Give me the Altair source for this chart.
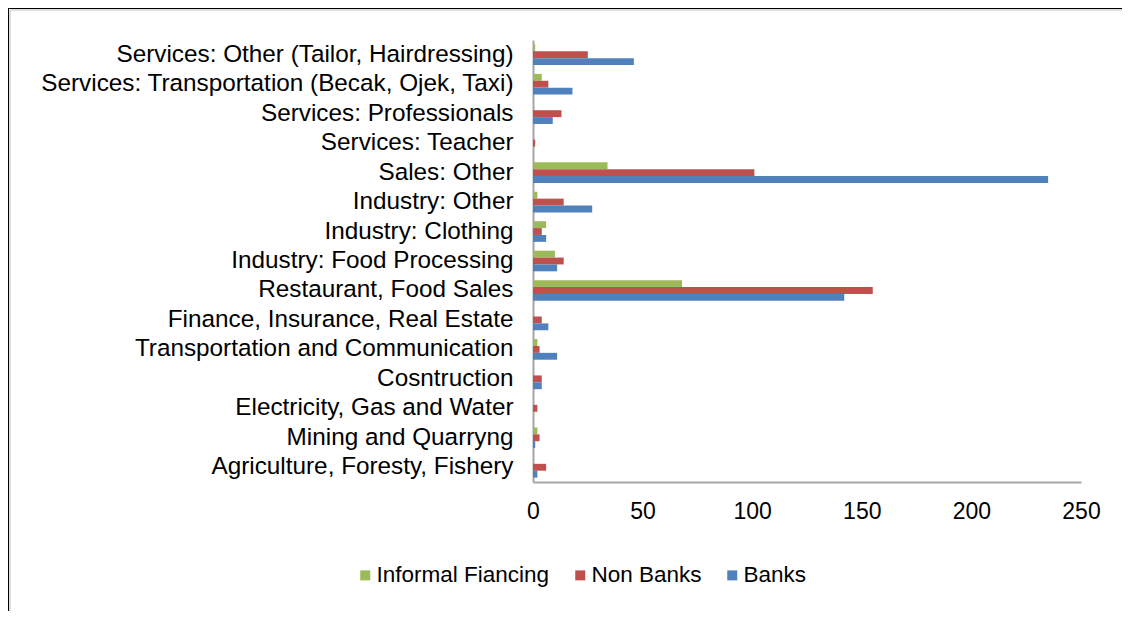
import altair as alt
import pandas as pd

categories = [
    "Services: Other (Tailor, Hairdressing)",
    "Services: Transportation (Becak, Ojek, Taxi)",
    "Services: Professionals",
    "Services: Teacher",
    "Sales: Other",
    "Industry: Other",
    "Industry: Clothing",
    "Industry: Food Processing",
    "Restaurant, Food Sales",
    "Finance, Insurance, Real Estate",
    "Transportation and Communication",
    "Cosntruction",
    "Electricity, Gas and Water",
    "Mining and Quarryng",
    "Agriculture, Foresty, Fishery",
]
banks = [46, 18, 9, 0, 235, 27, 6, 11, 142, 7, 11, 4, 0, 1, 2]
non_banks = [25, 7, 13, 1, 101, 14, 4, 14, 155, 4, 3, 4, 2, 3, 6]
informal = [1, 4, 0, 0, 34, 2, 6, 10, 68, 0, 2, 0, 0, 2, 0]

series = ["Informal Fiancing", "Non Banks", "Banks"]
colors = ["#9BBB59", "#C0504D", "#4F81BD"]
x_ticks = [0, 50, 100, 150, 200, 250]

rows = []
for i, c in enumerate(categories):
    rows.append({"category": c, "series": "Informal Fiancing", "value": informal[i]})
    rows.append({"category": c, "series": "Non Banks", "value": non_banks[i]})
    rows.append({"category": c, "series": "Banks", "value": banks[i]})
df = pd.DataFrame(rows)

FONT = "Liberation Sans"

bars = alt.Chart(df).mark_bar().encode(
    y=alt.Y(
        "category:N",
        sort=categories,
        scale=alt.Scale(paddingInner=0.3, paddingOuter=0.15),
        axis=alt.Axis(
            title=None,
            ticks=False,
            tickSize=0,
            labelFontSize=24.3,
            labelFont=FONT,
            labelColor="#000000",
            labelPadding=20,
            labelLimit=700,
            domainColor="#A6A6A6",
            domainWidth=2,
            grid=False,
        ),
    ),
    yOffset=alt.YOffset("series:N", sort=series, scale=alt.Scale(paddingInner=0, paddingOuter=0)),
    x=alt.X(
        "value:Q",
        scale=alt.Scale(domain=[0, 250], nice=False),
        axis=alt.Axis(
            title=None,
            values=x_ticks,
            ticks=False,
            tickSize=0,
            labelFontSize=23,
            labelFont=FONT,
            labelColor="#000000",
            labelPadding=18,
            labelFlush=False,
            domainColor="#A6A6A6",
            domainWidth=2,
            grid=False,
        ),
    ),
    color=alt.Color(
        "series:N",
        sort=series,
        scale=alt.Scale(domain=series, range=colors),
        legend=alt.Legend(
            title=None,
            orient="none",
            direction="horizontal",
            legendX=-179,
            legendY=524,
            symbolType="square",
            symbolSize=100,
            symbolStrokeWidth=0,
            labelFontSize=22.5,
            labelFont=FONT,
            labelColor="#000000",
            labelOffset=0,
            labelLimit=400,
            columnPadding=19,
        ),
    ),
)

border_df = pd.DataFrame({"k": [0]})
top_line = alt.Chart(border_df).mark_rule(color="#000000", strokeWidth=2).encode(
    x=alt.value(-525), x2=alt.value(700), y=alt.value(-32)
)
left_line = alt.Chart(border_df).mark_rule(color="#000000", strokeWidth=2).encode(
    x=alt.value(-525), y=alt.value(-32), y2=alt.value(700)
)
top_shadow = alt.Chart(border_df).mark_rule(color="#BFBFBF", strokeWidth=1).encode(
    x=alt.value(-523), x2=alt.value(700), y=alt.value(-30)
)
left_shadow = alt.Chart(border_df).mark_rule(color="#BFBFBF", strokeWidth=1).encode(
    x=alt.value(-523), y=alt.value(-30), y2=alt.value(700)
)

chart = alt.layer(bars, top_shadow, left_shadow, top_line, left_line).properties(
    width=548,
    height=442,
    autosize=alt.AutoSizeParams(type="none"),
    padding={"left": 525, "top": 32, "right": 41, "bottom": 129},
    background="#FFFFFF",
).configure_view(stroke=None)

chart.save("out.html", embed_options={"renderer": "svg", "actions": False})
